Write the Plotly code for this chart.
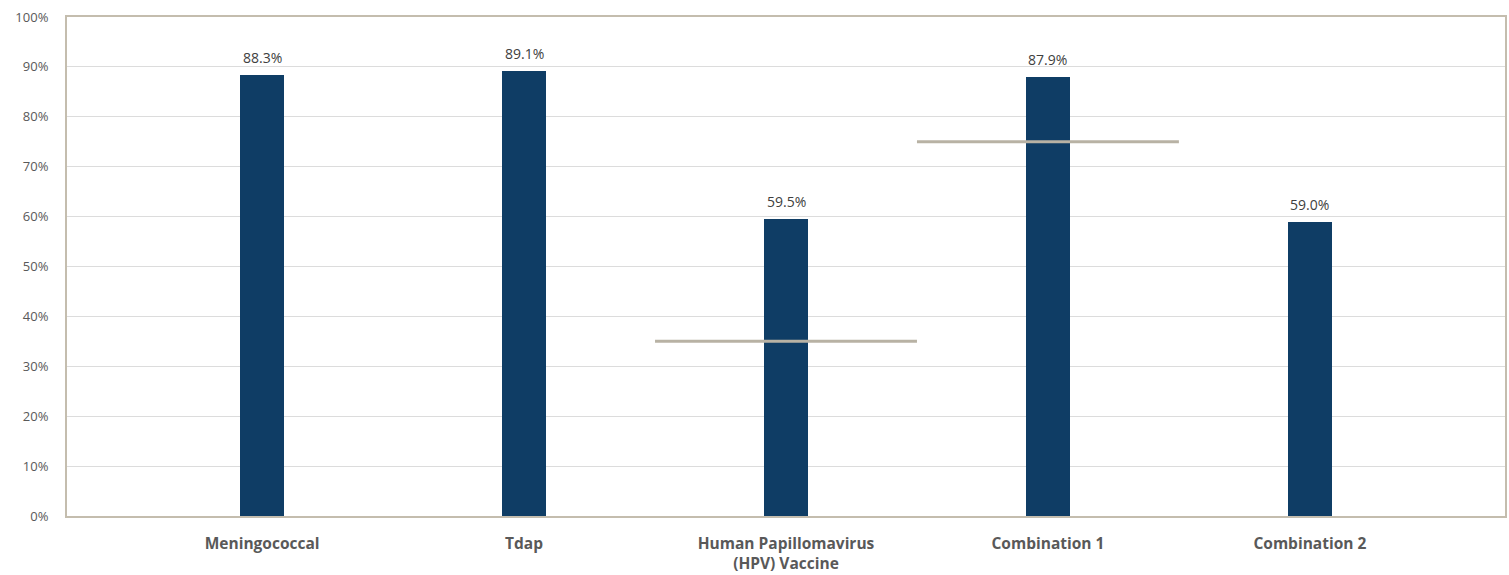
import plotly.graph_objects as go

categories = ["Meningococcal", "Tdap", "Human Papillomavirus<br>(HPV) Vaccine", "Combination 1", "Combination 2"]
rates = [88.3, 89.1, 59.5, 87.9, 59.0]
targets = [None, None, 35, 75, None]
y_ticks = [0, 10, 20, 30, 40, 50, 60, 70, 80, 90, 100]

xpos = list(range(len(categories)))
FONT = "Open Sans, Lato, sans-serif"

fig = go.Figure()
fig.add_trace(go.Bar(
    x=xpos, y=rates, width=0.168,
    marker=dict(color="#0F3D65", line=dict(width=0)),
    showlegend=False,
))
for i, t in enumerate(targets):
    if t is None:
        continue
    fig.add_trace(go.Scatter(
        x=[xpos[i] - 0.5, xpos[i] + 0.5], y=[t, t], mode="lines",
        line=dict(color="#B8B2A4", width=3), showlegend=False, hoverinfo="skip",
    ))
for x, v in zip(xpos, rates):
    fig.add_annotation(
        x=x, y=v, text=f"{v:.1f}%", showarrow=False, yanchor="bottom", yshift=6,
        font=dict(family=FONT, size=14, color="#404040"),
    )

fig.update_layout(
    width=1509, height=575,
    margin=dict(l=67, r=4, t=17, b=59),
    plot_bgcolor="white", paper_bgcolor="white",
    bargap=0,
)
fig.update_xaxes(
    range=[-0.745, 4.745], tickvals=xpos,
    ticktext=[f"<b>{c}</b>" for c in categories],
    tickfont=dict(family=FONT, size=15.5, color="#595959"),
    showgrid=False, zeroline=False, showline=True, linecolor="#C4BDAE", linewidth=2, mirror=True,
    ticks="", ticklabelstandoff=12, automargin=False,
)
fig.update_yaxes(
    range=[0, 100], tickvals=y_ticks, ticktext=[f"{v}%" for v in y_ticks],
    tickfont=dict(family=FONT, size=13, color="#595959"),
    showgrid=True, gridcolor="#DCDCDC", gridwidth=1, zeroline=False,
    showline=True, linecolor="#C4BDAE", linewidth=2, mirror=True,
    ticks="", ticklabelstandoff=14, automargin=False,
)
fig.write_html(
    "out.html",
    config={"displayModeBar": False},
    post_script="document.body.style.margin='0';document.body.style.overflow='hidden';",
)
